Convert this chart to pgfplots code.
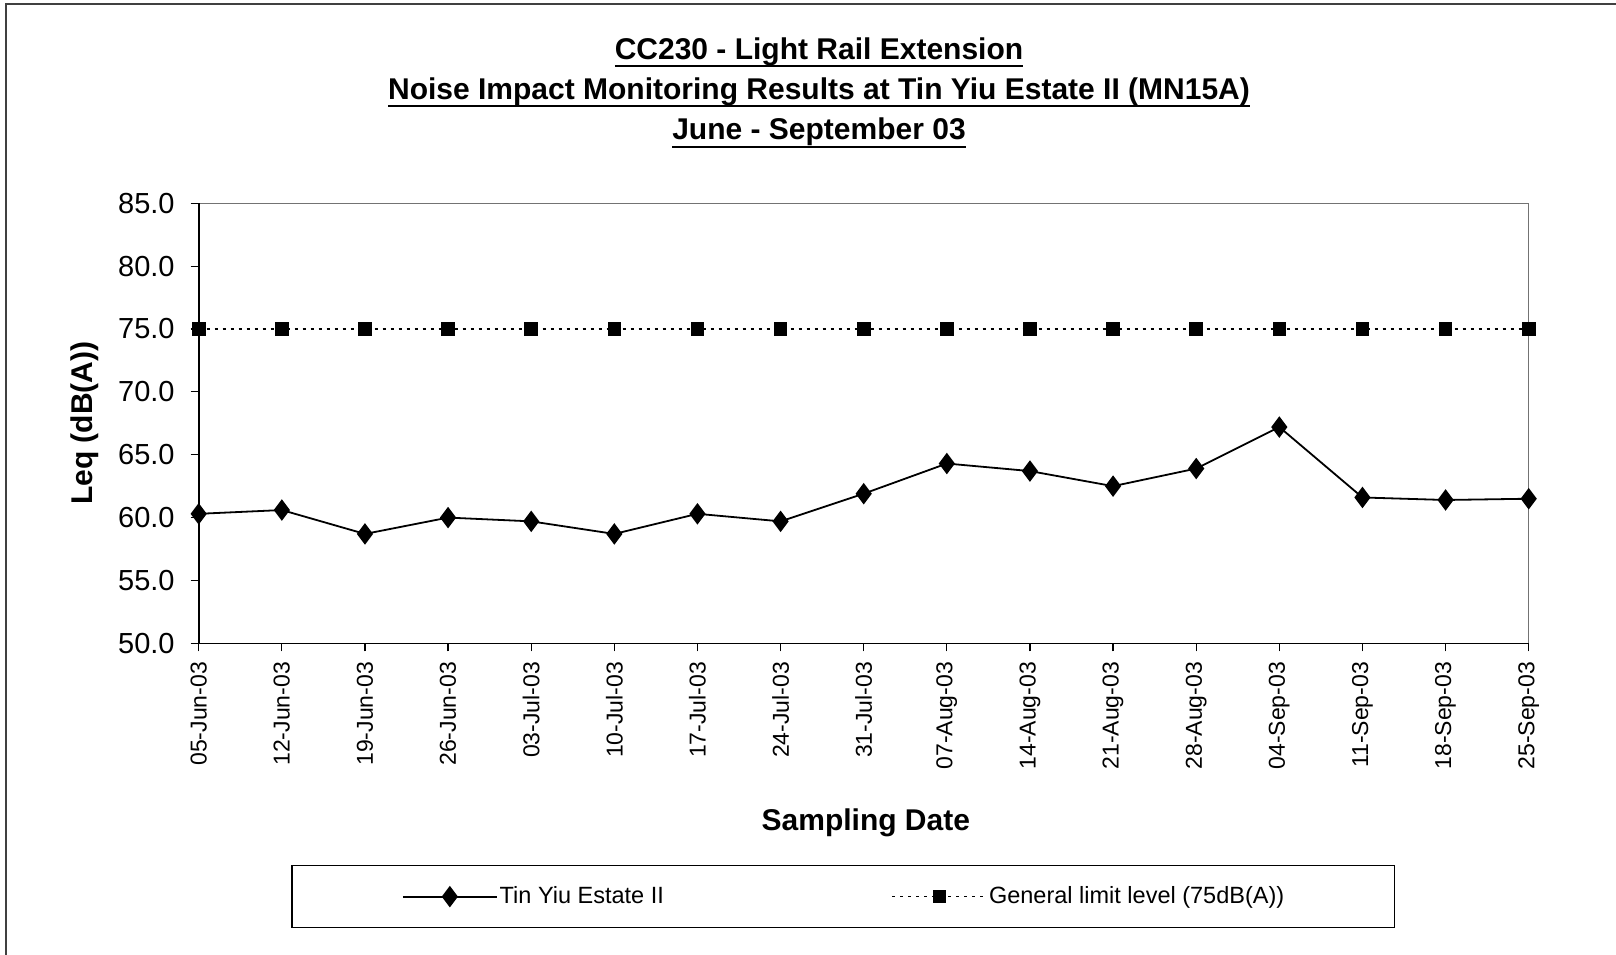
\documentclass[border=0pt]{standalone}
\usepackage{fontspec}
\setmainfont{Liberation Sans}
\usepackage{pgfplots}
\pgfplotsset{compat=1.18}
\newcommand{\uline}[1]{\setbox0\hbox{#1}\leavevmode\rlap{\rule[-3.8pt]{\wd0}{1pt}}\box0}
\begin{document}
\begin{tikzpicture}
\useasboundingbox (0,0) rectangle (808pt,477pt);
\fill[white] (0,0) rectangle (808pt,477pt);
\draw[line width=0.8pt, black!75] (2.85pt,-1pt) -- (2.85pt,475pt) -- (809pt,475pt);
\node[anchor=base, font=\fontsize{15}{18}\selectfont\bfseries, inner sep=0pt] at (409.5pt,447.4pt) {\uline{CC230 - Light Rail Extension}};
\node[anchor=base, font=\fontsize{15}{18}\selectfont\bfseries, inner sep=0pt] at (409.5pt,427.1pt) {\uline{Noise Impact Monitoring Results at Tin Yiu Estate II (MN15A)}};
\node[anchor=base, font=\fontsize{15}{18}\selectfont\bfseries, inner sep=0pt] at (409.5pt,407pt) {\uline{June - September 03}};
\begin{axis}[
  at={(99.35pt,155.35pt)}, anchor=south west,
  scale only axis, width=665pt, height=220pt,
  xmin=0, xmax=16, ymin=50, ymax=85,
  xtick={0,...,16},
  xticklabels={05-Jun-03,12-Jun-03,19-Jun-03,26-Jun-03,03-Jul-03,10-Jul-03,17-Jul-03,24-Jul-03,31-Jul-03,07-Aug-03,14-Aug-03,21-Aug-03,28-Aug-03,04-Sep-03,11-Sep-03,18-Sep-03,25-Sep-03},
  ytick={50,55,...,85},
  tick pos=left, tick align=outside,
  major tick length=4pt,
  tick style={black, line width=0.6pt},
  axis line style={draw=black!55, line width=0.5pt},
  /pgf/number format/fixed, /pgf/number format/fixed zerofill,
  /pgf/number format/precision=1, /pgf/number format/assume math mode=true,
  yticklabel style={font=\fontsize{14.5}{16}\selectfont, inner sep=0pt, anchor=east, xshift=-7.85pt},
  xticklabel style={font=\fontsize{11.5}{13}\selectfont, rotate=90, anchor=east, inner sep=0pt, xshift=-5.2pt},
  xlabel={Sampling Date}, ylabel={Leq (dB(A))},
  every axis x label/.style={at={(axis description cs:0.5016,-0.408)}, anchor=center, font=\fontsize{15}{18}\selectfont\bfseries},
  every axis y label/.style={at={(axis description cs:-0.0859,0.5)}, rotate=90, anchor=center, font=\fontsize{15}{18}\selectfont\bfseries},
  clip=false,
  legend columns=2,
  legend style={at={(axis description cs:0.4845,-0.5757)}, anchor=center, draw=black, line width=0.6pt,
    font=\fontsize{11.75}{14}\selectfont, inner xsep=55pt, inner ysep=10.5pt,
    nodes={inner sep=0pt},
    /tikz/every even column/.append style={column sep=114pt},
    /tikz/every odd column/.append style={column sep=1pt}},
  legend image code/.code={\draw[mark repeat=2,mark phase=2,#1] plot coordinates {(0pt,0pt) (23.5pt,0pt) (47pt,0pt)};},
  after end axis/.code={\draw[black, line width=0.8pt] (rel axis cs:0,1) -- (rel axis cs:0,0) -- (rel axis cs:1,0);},
]
\addplot[black, line width=0.9pt, mark=diamond*, mark size=4.65pt, mark options={solid, fill=black}]
coordinates {(0,60.3) (1,60.6) (2,58.7) (3,60.0) (4,59.7) (5,58.7) (6,60.3) (7,59.7) (8,61.9) (9,64.3) (10,63.7) (11,62.5) (12,63.9) (13,67.2) (14,61.6) (15,61.4) (16,61.5)};
\addlegendentry{Tin Yiu Estate II}
\addplot[black, line width=0.6pt, dash pattern=on 1.4pt off 2.6pt, mark=square*, mark size=3.1pt, mark options={solid, fill=black}]
coordinates {(0,75) (1,75) (2,75) (3,75) (4,75) (5,75) (6,75) (7,75) (8,75) (9,75) (10,75) (11,75) (12,75) (13,75) (14,75) (15,75) (16,75)};
\addlegendentry{General limit level (75dB(A))}
\end{axis}
\end{tikzpicture}
\end{document}
